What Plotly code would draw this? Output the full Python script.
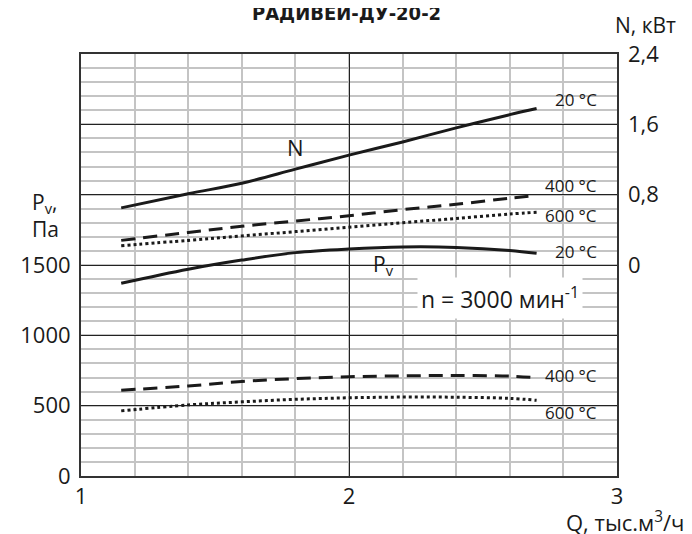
import plotly.graph_objects as go

# Q, thousand m3/h
q = [1.15, 1.4, 1.6, 1.8, 2.0, 2.2, 2.4, 2.6, 2.7]

# power curves, kW (right axis)
n_20 = [0.65, 0.81, 0.93, 1.09, 1.25, 1.40, 1.56, 1.71, 1.78]
n_400 = [0.28, 0.37, 0.44, 0.50, 0.56, 0.63, 0.69, 0.76, 0.79]
n_600 = [0.22, 0.28, 0.33, 0.38, 0.43, 0.48, 0.53, 0.58, 0.60]

# pressure curves, Pa (left axis)
pv_20 = [1370, 1470, 1535, 1588, 1614, 1628, 1625, 1603, 1583]
pv_400 = [610, 640, 672, 692, 706, 712, 714, 710, 698]
pv_600 = [463, 505, 527, 545, 556, 561, 560, 552, 538]

temps = ["20 °C", "400 °C", "600 °C"]
x_ticks = [1, 2, 3]
pv_ticks = [0, 500, 1000, 1500]
n_ticks = [0, 0.8, 1.6, 2.4]
n_ticktext = ["0", "0,8", "1,6", "2,4"]

FONT = "Open Sans"
INK = "#1a1a1a"
styles = ["solid", "14px,8px", "3px,3px"]

fig = go.Figure()
for vals, dash in zip([pv_20, pv_400, pv_600], styles):
    fig.add_trace(go.Scatter(x=q, y=vals, mode="lines", line_shape="spline",
                             line=dict(color=INK, width=3, dash=dash),
                             showlegend=False, yaxis="y"))
for vals, dash in zip([n_20, n_400, n_600], styles):
    fig.add_trace(go.Scatter(x=q, y=vals, mode="lines", line_shape="spline",
                             line=dict(color=INK, width=3, dash=dash),
                             showlegend=False, yaxis="y2"))

# page body has an 8px margin, so the figure is a bit smaller than the window
fig.update_layout(
    width=684, height=526,
    margin=dict(l=73, r=75, t=46, b=58, autoexpand=False),
    paper_bgcolor="white", plot_bgcolor="white",
    font=dict(family=FONT, color=INK),
    xaxis=dict(range=[1, 3], tickvals=x_ticks, showgrid=True, gridcolor="#222",
               gridwidth=1, zeroline=False, showline=True, linecolor="#333",
               linewidth=2, mirror=True, ticks="", ticklabelstandoff=0,
               tickfont=dict(size=22), automargin=False,
               minor=dict(dtick=0.2, tick0=1, showgrid=True, gridcolor="#c4c4c4",
                          gridwidth=1.5)),
    yaxis=dict(range=[0, 3000], tickvals=pv_ticks, showgrid=True, gridcolor="#222",
               gridwidth=1, zeroline=False, showline=True, linecolor="#333",
               linewidth=2, mirror=True, ticks="", ticklabelstandoff=4,
               tickfont=dict(size=22), automargin=False,
               minor=dict(dtick=100, tick0=0, showgrid=True, gridcolor="#c4c4c4",
                          gridwidth=1.5)),
    yaxis2=dict(range=[-2.4, 2.4], overlaying="y", side="right", tickvals=n_ticks,
                ticktext=n_ticktext, showgrid=True, gridcolor="#222", gridwidth=1,
                zeroline=False, ticks="", ticklabelstandoff=10, automargin=False,
                tickfont=dict(size=22)),
)

ann = []
# curve labels, right-aligned beyond the end of each curve
for t, vals, dy in zip(temps, [n_20, n_400, n_600], [-9, -10, 3]):
    ann.append(dict(x=q[-1], y=vals[-1], xref="x", yref="y2", text=t, showarrow=False,
                    xanchor="right", xshift=62, yshift=-dy, font=dict(size=17)))
for t, vals, dy in zip(temps, [pv_20, pv_400, pv_600], [0, 0, 14]):
    ann.append(dict(x=q[-1], y=vals[-1], xref="x", yref="y", text=t, showarrow=False,
                    xanchor="right", xshift=62, yshift=-dy + 2, font=dict(size=17)))

ann += [
    dict(x=1.8, y=0.95, xref="x", yref="y2", text="N", showarrow=False,
         yanchor="bottom", yshift=17, font=dict(size=22)),
    dict(x=2.13, y=1500, xref="x", yref="y", text="P<sub>v</sub>", showarrow=False,
         font=dict(size=21)),
    dict(x=2.563, y=1262, xref="x", yref="y", text="n = 3000 мин<sup>-1</sup>",
         showarrow=False, bgcolor="white", borderpad=3, font=dict(size=23)),
    dict(x=-0.095, y=0.618, xref="paper", yref="paper", xanchor="left",
         text="P<sub>v</sub>,<br>Па", align="left", showarrow=False,
         font=dict(size=21)),
    dict(x=1.114, y=1.069, xref="paper", yref="paper", text="N, кВт",
         showarrow=False, font=dict(size=21), xanchor="right", yanchor="middle"),
    dict(x=1.015, y=-0.107, xref="paper", yref="paper", text="Q, тыс.м<sup>3</sup>/ч",
         showarrow=False, font=dict(size=22), xanchor="center", yanchor="middle"),
    dict(x=0.495, y=1.13, xref="paper", yref="paper", text="<b>РАДИВЕЙ-ДУ-20-2</b>",
         showarrow=False,
         font=dict(size=20, family="DejaVu Sans Condensed, Liberation Sans Narrow, Roboto, sans-serif")),
]
fig.update_layout(annotations=ann)

fig.write_html("out.html")
